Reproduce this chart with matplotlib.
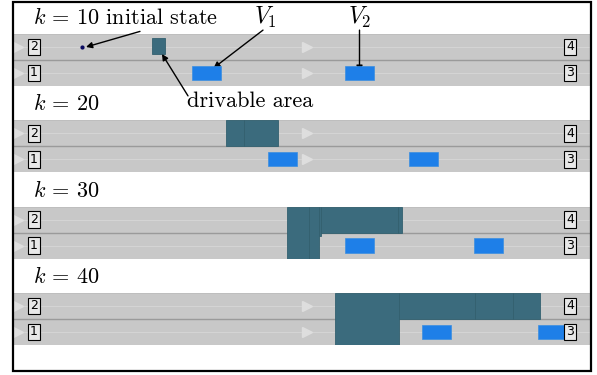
import matplotlib.pyplot as plt
from matplotlib.patches import Rectangle

plt.rcParams['mathtext.fontset'] = 'cm'

# time steps shown, one road snapshot per step
steps = [10, 20, 30, 40]

# vehicle centres along the road [m], both drive in lane 1
v1_x = [38.6, 53.9, 69.3, 84.7]
v2_x = [69.3, 82.1, 95.0, 107.8]
veh_len = 5.8
veh_wid = 0.55

# initial state of the ego vehicle at k=10 (x [m], lane coordinate)
init_x, init_y = 13.7, 1.5

# drivable area per step as (x0, x1, y0, y1) cells, y in lane coordinates
drivable = [
    [(27.8, 30.4, 1.22, 1.86)],
    [(42.5, 46.2, 1.0, 2.0), (46.2, 52.9, 1.0, 2.0)],
    [(54.7, 59.1, 0.0, 2.0), (59.1, 61.2, 0.0, 2.0), (61.2, 61.6, 0.86, 2.0),
     (61.6, 77.0, 1.0, 2.0), (77.0, 77.8, 1.0, 2.0)],
    [(64.3, 77.2, 0.0, 2.0), (77.2, 92.4, 1.0, 2.0), (92.4, 100.0, 1.0, 2.0),
     (100.0, 105.4, 1.0, 2.0)],
]

road_len = 115.4
left_ids = ['1', '2']
right_ids = ['3', '4']

fig = plt.figure(figsize=(5.97, 3.75), dpi=100)
W, H = 597, 375

axes = []
for i, k in enumerate(steps):
    top = 34 + 86.3 * i
    ax = fig.add_axes([13 / W, 1 - (top + 52) / H, 577 / W, 52 / H])
    ax.set_xlim(0, road_len)
    ax.set_ylim(0, 2)
    ax.set_axis_off()
    axes.append(ax)

    # road surface, lane centre lines and lane divider
    ax.add_patch(Rectangle((0, 0), road_len, 2, fc='#c8c8c8', ec='none', zorder=0,
                           clip_on=False))
    for yc in (0.5, 1.5):
        ax.axhline(yc, color='#d4d4d4', lw=0.8, zorder=1)
        ax.plot([0.9, 58.8], [yc, yc], ls='none', marker='>', ms=7,
                color='#dedede', zorder=1, clip_on=False)
    ax.axhline(1.0, color='#9a9a9a', lw=1.0, zorder=1)
    ax.axhline(0.0, color='#bdbdbd', lw=0.6, zorder=1)
    ax.axhline(2.0, color='#bdbdbd', lw=0.6, zorder=1)

    for x0, x1, y0, y1 in drivable[i]:
        ax.add_patch(Rectangle((x0, y0), x1 - x0, y1 - y0, fc='#3b6b7d',
                               ec='#33606f', lw=0.6, zorder=3))

    for xc in (v1_x[i], v2_x[i]):
        ax.add_patch(Rectangle((xc - veh_len / 2, 0.5 - veh_wid / 2), veh_len, veh_wid,
                               fc='#1e7fe8', ec='#3a8ee0', lw=0.5, zorder=4))

    for lane, (l_id, r_id) in enumerate(zip(left_ids, right_ids)):
        box = dict(boxstyle='square,pad=0.15', fc='#e8e8e8', ec='k', lw=0.8)
        ax.text(4.2, lane + 0.5, l_id, fontsize=9, ha='center', va='center',
                bbox=box, zorder=6)
        ax.text(111.4, lane + 0.5, r_id, fontsize=9, ha='center', va='center',
                bbox=box, zorder=6)

    label = f'$k\\,=\\,{k}$ initial state' if k == 10 else f'$k\\,=\\,{k}$'
    ax.text(4.0, 2.63, label, fontsize=16, family='cmr10', ha='left', va='center',
            clip_on=False)

# annotations on the first snapshot
ax = axes[0]
arrow = dict(arrowstyle='-|>', color='k', lw=1.0, mutation_scale=9, shrinkA=0, shrinkB=0)
ax.plot([init_x], [init_y], 'o', ms=2, color='#0a0a60', zorder=5)
ax.annotate('', xy=(init_x + 0.9, init_y), xytext=(25.4, 2.1), arrowprops=arrow,
            annotation_clip=False)
ax.text(50.4, 2.63, '$V_1$', fontsize=17, ha='center', va='center')
ax.annotate('', xy=(v1_x[0] + 1.5, 0.69), xytext=(50.0, 2.15), arrowprops=arrow,
            annotation_clip=False)
ax.text(69.4, 2.63, '$V_2$', fontsize=17, ha='center', va='center')
ax.annotate('', xy=(v2_x[0], 0.55), xytext=(v2_x[0], 2.15), arrowprops=arrow,
            annotation_clip=False)
ax.text(47.4, -0.6, 'drivable area', fontsize=16, family='cmr10', ha='center',
        va='center', zorder=7)
ax.annotate('', xy=(29.8, 1.23), xytext=(35.0, -0.38), arrowprops=arrow,
            annotation_clip=False, zorder=7)

# outer frame
fig.patches.append(Rectangle((12.5 / W, 1 - 371 / H), 578 / W, 369.5 / H, fill=False,
                             ec='k', lw=1.6, transform=fig.transFigure, figure=fig))

fig.savefig('out.png', dpi=100)
